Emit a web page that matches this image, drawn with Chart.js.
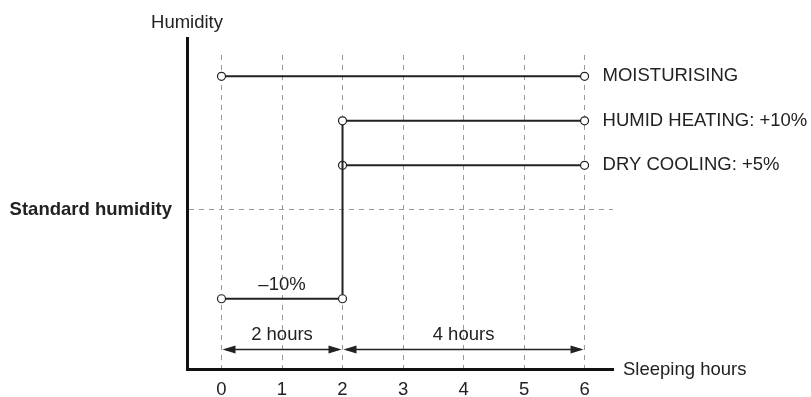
<!DOCTYPE html>
<html>
<head>
<meta charset="utf-8">
<script src="https://cdn.jsdelivr.net/npm/chart.js@4/dist/chart.umd.min.js"></script>
<style>
  html, body { margin: 0; padding: 0; background: #fff; }
  #wrap { width: 811px; height: 397px; }
</style>
</head>
<body>
<div id="wrap"><canvas id="humidity-chart"></canvas></div>
<script>
// Sleeping hours on the x axis
const hours = [0, 1, 2, 3, 4, 5, 6];

// Humidity, in % relative to standard humidity
const moistHours = [0, 6];
const moistValues = [15, 15];
const humidHours = [0, 2, 2, 6];
const humidValues = [-10, -10, 10, 10];
const dryHours = [2, 6];
const dryValues = [5, 5];

const seriesNames = ['MOISTURISING', 'HUMID HEATING: +10%', 'DRY COOLING: +5%'];
const standardLabel = 'Standard humidity';
const dropLabel = '–10%';

// bottom arrows
const spanStarts = [0, 2];
const spanEnds = [2, 6];
const spanLabels = ['2 hours', '4 hours'];
const spanLevel = -15.7;

const FONT = '"Liberation Sans", Arial, Helvetica, sans-serif';
const FONT_SIZE = 18.5;
const INK = '#222';

const toPoints = ( xs, ys ) => xs.map( ( x, i ) => ( { x, y: ys[ i ] } ) );

const lineDataset = ( label, xs, ys ) => ( {
	label,
	data: toPoints( xs, ys ),
	showLine: true,
	borderColor: INK,
	borderWidth: 2,
	pointRadius: 4,
	pointBorderWidth: 1.2,
	pointBorderColor: INK,
	pointBackgroundColor: '#fff',
	clip: false,
} );

const arrowHead = ( ctx, x, y, dir ) => {
	ctx.beginPath();
	ctx.moveTo( x, y );
	ctx.lineTo( x - dir * 13, y - 4 );
	ctx.lineTo( x - dir * 13, y + 4 );
	ctx.closePath();
	ctx.fill();
};

const annotations = {
	id: 'annotations',
	afterDraw( chart ) {
		const { ctx, chartArea } = chart;
		const xs = chart.scales.x;
		const ys = chart.scales.y;
		ctx.save();

		// y axis runs a bit above the plot area
		ctx.strokeStyle = '#111';
		ctx.lineWidth = 3;
		ctx.beginPath();
		ctx.moveTo( chartArea.left + 0.5, 37 );
		ctx.lineTo( chartArea.left + 0.5, chartArea.top + 1 );
		ctx.stroke();

		ctx.fillStyle = INK;
		ctx.font = FONT_SIZE + 'px ' + FONT;
		ctx.textBaseline = 'alphabetic';
		ctx.textAlign = 'center';
		ctx.fillText( 'Humidity', chartArea.left, 28 );
		ctx.textAlign = 'left';
		ctx.fillText( 'Sleeping hours', chartArea.right + 10, chartArea.bottom + 6 );

		// series names at the right end of each line
		const ends = [ moistValues, humidValues, dryValues ];
		ctx.textBaseline = 'middle';
		seriesNames.forEach( ( name, i ) => {
			const vals = ends[ i ];
			ctx.fillText(
				name,
				xs.getPixelForValue( hours[ hours.length - 1 ] ) + 18,
				ys.getPixelForValue( vals[ vals.length - 1 ] )
			);
		} );

		ctx.textAlign = 'center';
		ctx.fillText(
			dropLabel,
			( xs.getPixelForValue( humidHours[ 0 ] ) + xs.getPixelForValue( humidHours[ 1 ] ) ) / 2,
			ys.getPixelForValue( humidValues[ 0 ] ) - 14
		);

		// double arrows for the time spans
		const ay = ys.getPixelForValue( spanLevel );
		ctx.strokeStyle = INK;
		ctx.lineWidth = 1.5;
		spanStarts.forEach( ( s, i ) => {
			const x1 = xs.getPixelForValue( s );
			const x2 = xs.getPixelForValue( spanEnds[ i ] );
			ctx.beginPath();
			ctx.moveTo( x1 + 4, ay );
			ctx.lineTo( x2 - 4, ay );
			ctx.stroke();
			arrowHead( ctx, x1 + 1, ay, -1 );
			arrowHead( ctx, x2 - 1, ay, 1 );
			ctx.fillText( spanLabels[ i ], ( x1 + x2 ) / 2, ay - 15 );
		} );

		ctx.restore();
	},
};

new Chart( document.getElementById( 'humidity-chart' ), {
	type: 'scatter',
	data: {
		datasets: [
			lineDataset( seriesNames[ 0 ], moistHours, moistValues ),
			lineDataset( seriesNames[ 1 ], humidHours, humidValues ),
			lineDataset( seriesNames[ 2 ], dryHours, dryValues ),
		],
	},
	options: {
		responsive: true,
		maintainAspectRatio: false,
		animation: false,
		layout: {
			padding: { top: 55, right: 198, left: 0, bottom: 0 },
		},
		plugins: {
			legend: { display: false },
			tooltip: { enabled: false },
		},
		scales: {
			x: {
				type: 'linear',
				min: -0.57,
				max: 6.47,
				afterBuildTicks: ( scale ) => {
					scale.ticks = hours.map( ( v ) => ( { value: v } ) );
				},
				afterFit: ( scale ) => {
					scale.height = 28;
				},
				ticks: {
					color: INK,
					font: { family: FONT, size: FONT_SIZE },
					padding: 10,
					autoSkip: false,
					maxRotation: 0,
				},
				grid: {
					color: '#9a9a9a',
					lineWidth: 1,
					drawTicks: false,
				},
				border: {
					display: true,
					color: '#111',
					width: 3,
					dash: [ 5, 5 ],
				},
			},
			y: {
				min: -17.9,
				max: 17.4,
				afterBuildTicks: ( scale ) => {
					scale.ticks = [ { value: 0 } ];
				},
				afterFit: ( scale ) => {
					scale.width = 187;
				},
				ticks: {
					color: INK,
					font: { family: FONT, size: FONT_SIZE, weight: 'bold' },
					padding: 15,
					callback: () => standardLabel,
				},
				grid: {
					color: '#9a9a9a',
					lineWidth: 1,
					drawTicks: false,
				},
				border: {
					display: true,
					color: '#111',
					width: 3,
					dash: [ 5, 5 ],
				},
			},
		},
	},
	plugins: [ annotations ],
} );
</script>
</body>
</html>
